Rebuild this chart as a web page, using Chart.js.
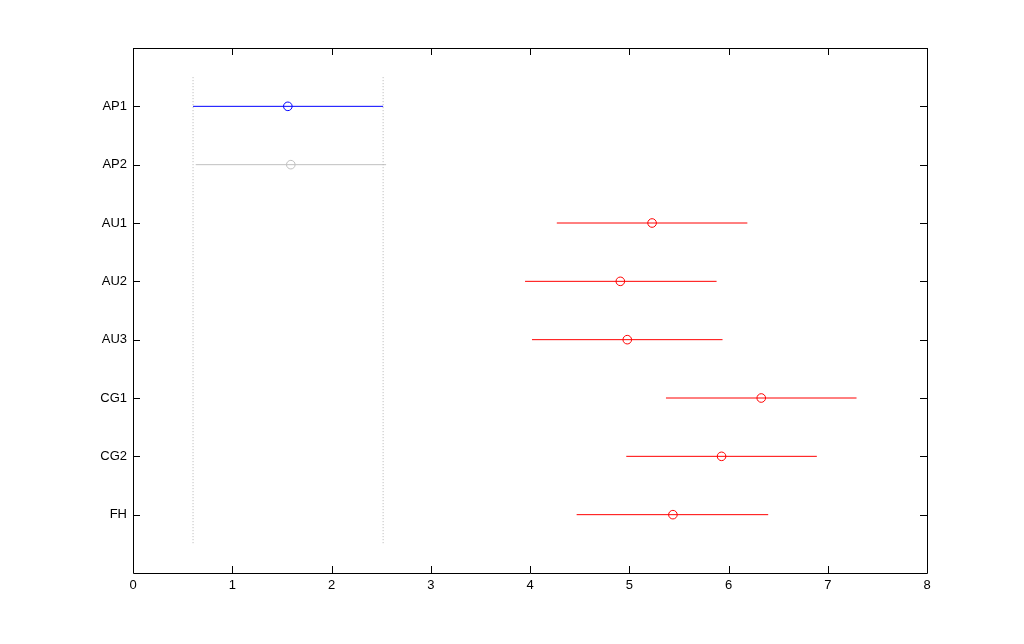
<!DOCTYPE html>
<html>
<head>
<meta charset="utf-8">
<script src="https://cdn.jsdelivr.net/npm/chart.js@4"></script>
<style>
  body { margin: 0; background: #fff; }
  canvas { display: block; }
</style>
</head>
<body>
<canvas id="compareChart" width="1024" height="644"></canvas>
<script>
// group names, top to bottom
const groups = ['AP1', 'AP2', 'AU1', 'AU2', 'AU3', 'CG1', 'CG2', 'FH'];
// estimated means and comparison interval bounds
const means = [1.56, 1.59, 5.23, 4.91, 4.98, 6.33, 5.93, 5.44];
const lower = [0.605, 0.632, 4.27, 3.95, 4.02, 5.37, 4.97, 4.47];
const upper = [2.52, 2.55, 6.19, 5.88, 5.94, 7.29, 6.89, 6.40];
const xTicks = [0, 1, 2, 3, 4, 5, 6, 7, 8];
const selected = 0;

// blue = selected group, red = significantly different, gray = not
function groupColor(i) {
  if (i === selected) return '#0000ff';
  const overlap = lower[i] <= upper[selected] && upper[i] >= lower[selected];
  return overlap ? '#c0c0c0' : '#ff0000';
}

const datasets = [];
// dotted reference lines at the selected group's bounds
[lower[selected], upper[selected]].forEach(function (x) {
  datasets.push({
    data: [{ x: x, y: 0.5 }, { x: x, y: 8.5 }],
    showLine: true,
    borderColor: '#b4b4b4',
    borderWidth: 1,
    borderDash: [1, 2],
    pointRadius: 0
  });
});
groups.forEach(function (g, i) {
  const c = groupColor(i);
  datasets.push({
    data: [{ x: lower[i], y: i + 1 }, { x: upper[i], y: i + 1 }],
    showLine: true,
    borderColor: c,
    borderWidth: 1,
    pointRadius: 0
  });
  datasets.push({
    data: [{ x: means[i], y: i + 1 }],
    showLine: false,
    pointStyle: 'circle',
    pointRadius: 4.3,
    borderColor: c,
    borderWidth: 1,
    backgroundColor: 'rgba(0,0,0,0)'
  });
});

// box around the plot with inward ticks on all four sides
const boxPlugin = {
  id: 'box',
  afterDraw: function (chart) {
    const a = chart.chartArea;
    const ctx = chart.ctx;
    const xs = chart.scales.x, ys = chart.scales.y;
    const L = 7;
    ctx.save();
    ctx.strokeStyle = '#000';
    ctx.lineWidth = 1;
    ctx.beginPath();
    ctx.rect(Math.round(a.left) + 0.5, Math.round(a.top) + 0.5,
      Math.round(a.right - a.left), Math.round(a.bottom - a.top));
    xTicks.forEach(function (v) {
      const px = Math.round(xs.getPixelForValue(v)) + 0.5;
      ctx.moveTo(px, a.bottom); ctx.lineTo(px, a.bottom - L);
      ctx.moveTo(px, a.top); ctx.lineTo(px, a.top + L);
    });
    groups.forEach(function (g, i) {
      const py = Math.round(ys.getPixelForValue(i + 1)) + 0.5;
      ctx.moveTo(a.left, py); ctx.lineTo(a.left + L, py);
      ctx.moveTo(a.right, py); ctx.lineTo(a.right - L, py);
    });
    ctx.stroke();
    ctx.restore();
  }
};

const bgPlugin = {
  id: 'bg',
  beforeDraw: function (chart) {
    const ctx = chart.ctx;
    ctx.save();
    ctx.fillStyle = '#fff';
    ctx.fillRect(0, 0, chart.width, chart.height);
    ctx.restore();
  }
};

const font = { family: "'Liberation Sans', Arial, sans-serif", size: 13 };

new Chart(document.getElementById('compareChart').getContext('2d'), {
  type: 'scatter',
  data: { datasets: datasets },
  options: {
    responsive: false,
    animation: false,
    layout: { padding: { left: 0, top: 48, right: 97, bottom: 0 } },
    plugins: { legend: { display: false }, tooltip: { enabled: false } },
    scales: {
      x: {
        type: 'linear',
        min: 0,
        max: 8,
        afterFit: function (s) { s.height = 71; },
        afterBuildTicks: function (s) { s.ticks = xTicks.map(function (v) { return { value: v }; }); },
        grid: { display: false, drawTicks: false },
        border: { display: false },
        ticks: { color: '#000', font: font, padding: 5, maxRotation: 0 }
      },
      y: {
        type: 'linear',
        min: 0,
        max: 9,
        reverse: true,
        afterFit: function (s) { s.width = 133; },
        afterBuildTicks: function (s) { s.ticks = groups.map(function (g, i) { return { value: i + 1 }; }); },
        grid: { display: false, drawTicks: false },
        border: { display: false },
        ticks: {
          color: '#000',
          font: font,
          padding: 6,
          callback: function (v) { return groups[v - 1] || ''; }
        }
      }
    }
  },
  plugins: [bgPlugin, boxPlugin]
});
</script>
</body>
</html>
